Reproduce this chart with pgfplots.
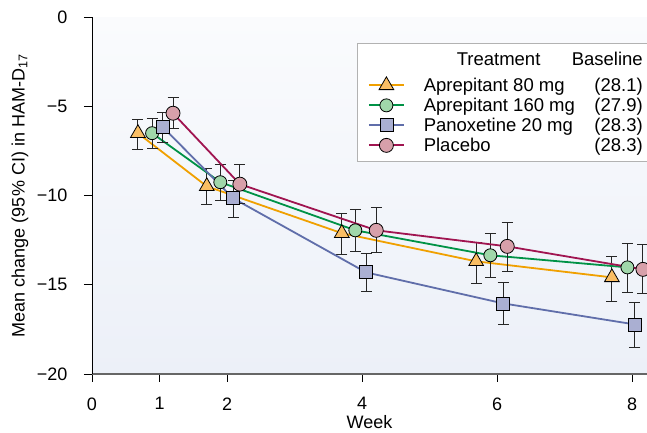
\documentclass[border=0pt]{standalone}
\usepackage{fontspec}
\setmainfont{Liberation Sans}
\usepackage{pgfplots}
\pgfplotsset{compat=1.18}
\definecolor{linA}{RGB}{240,160,0}
\definecolor{linB}{RGB}{0,146,70}
\definecolor{linC}{RGB}{96,110,170}
\definecolor{linD}{RGB}{160,20,80}
\definecolor{fillA}{RGB}{250,190,100}
\definecolor{fillB}{RGB}{160,215,170}
\definecolor{fillC}{RGB}{170,175,210}
\definecolor{fillD}{RGB}{215,160,170}
% legend rows: name on the left, baseline value right-aligned
\newcommand{\ent}[2]{\makebox[166pt][l]{#1}\makebox[53pt][r]{#2}}
\begin{document}
\begin{tikzpicture}
\begin{axis}[
  scale only axis,
  width=555pt, height=356.5pt,
  xmin=0, xmax=8.22, ymin=-20, ymax=0,
  axis lines*=left,
  x axis line style={line width=1.5pt, black!60},
  y axis line style={line width=0.8pt, black},
  axis background/.style={shade, top color={rgb,255:red,250;green,251;blue,253}, bottom color={rgb,255:red,236;green,240;blue,248}},
  xtick={0,1,2,4,6,8}, xticklabels={0,1,2,4,6,8},
  ytick={-20,-15,-10,-5,0}, yticklabels={−20,−15,−10,−5,0},
  tick align=outside, major tick length=8pt,
  tick style={black, line width=0.8pt},
  ticklabel style={font=\fontsize{18}{21}\selectfont},
  xticklabel style={yshift=-12pt},
  yticklabel style={xshift=-13pt},
  xlabel={Week}, ylabel={Mean change (95\% CI) in HAM-D\textsubscript{17}},
  label style={font=\fontsize{18}{21}\selectfont},
  xlabel style={at={(axis description cs:0.5,0)}, anchor=center, yshift=-48pt},
  ylabel style={at={(axis description cs:-0.1297,0.5)}, anchor=center},
  legend cell align=left,
  legend style={at={(1,0.928)}, anchor=north east, draw=black!30, fill=white,
    font=\fontsize{18.5}{21}\selectfont, row sep=0pt, column sep=19pt,
    inner xsep=4pt, inner ysep=6pt, nodes={inner sep=0pt}},
  legend image code/.code={
    \path[draw=none, fill=none] (-8pt,-10pt) rectangle (35pt,10pt);
    \draw[mark repeat=2, mark phase=2] plot coordinates {(0pt,0pt) (17.5pt,0pt) (35pt,0pt)};},
  error bars/y dir=both, error bars/y explicit,
  error bars/error bar style={black!85, line width=1pt},
  error bars/error mark options={rotate=90, black!85, line width=1pt, mark size=5.5pt},
]
\addlegendimage{legend image code/.code={\path[draw=none, fill=none] (0pt,-16pt) rectangle (1pt,10pt);}}
\addlegendentry{\makebox[219pt][l]{\hspace{33pt}Treatment\hfill Baseline}}
\addplot[color=linA, line width=1.8pt, mark=triangle*,
  mark options={fill=fillA, draw=black, line width=0.8pt, mark size=8.5pt}]
  coordinates {
  (0.68,-6.49) += (0,0.79) -= (0,0.90)
  (1.70,-9.47) += (0,1.01) -= (0,1.01)
  (3.70,-12.10) += (0,1.10) -= (0,1.19)
  (5.69,-13.68) += (0,1.08) -= (0,1.24)
  (7.70,-14.58) += (0,1.18) -= (0,1.35)
  };
\addlegendentry{\ent{Aprepitant 80 mg}{(28.1)}}
\addplot[color=linB, line width=1.8pt, mark=*,
  mark options={fill=fillB, draw=black, line width=0.8pt, mark size=6.5pt}]
  coordinates {
  (0.89,-6.49) += (0,0.84) -= (0,0.84)
  (1.90,-9.24) += (0,1.01) -= (0,1.01)
  (3.90,-11.94) += (0,1.18) -= (0,1.18)
  (5.90,-13.34) += (0,1.23) -= (0,1.24)
  (7.93,-14.02) += (0,1.35) -= (0,1.40)
  };
\addlegendentry{\ent{Aprepitant 160 mg}{(27.9)}}
\addplot[color=linC, line width=1.8pt, mark=square*,
  mark options={fill=fillC, draw=black, line width=0.8pt, mark size=6.5pt}]
  coordinates {
  (1.05,-6.15) += (0,0.84) -= (0,0.85)
  (2.09,-10.14) += (0,1.01) -= (0,1.07)
  (4.06,-14.30) += (0,1.07) -= (0,1.07)
  (6.09,-16.04) += (0,1.18) -= (0,1.18)
  (8.04,-17.22) += (0,1.24) -= (0,1.29)
  };
\addlegendentry{\ent{Panoxetine 20 mg}{(28.3)}}
\addplot[color=linD, line width=1.8pt, mark=*,
  mark options={fill=fillD, draw=black, line width=0.8pt, mark size=7pt}]
  coordinates {
  (1.20,-5.37) += (0,0.90) -= (0,0.84)
  (2.19,-9.35) += (0,1.12) -= (0,1.10)
  (4.21,-11.94) += (0,1.29) -= (0,1.23)
  (6.15,-12.84) += (0,1.35) -= (0,1.40)
  (8.16,-14.13) += (0,1.40) -= (0,1.35)
  };
\addlegendentry{\ent{Placebo}{(28.3)}}
\coordinate (bl) at (rel axis cs:0,0);
\coordinate (tr) at (rel axis cs:1,1);
\end{axis}
\pgfresetboundingbox
\path[use as bounding box] ([shift={(-92pt,-59pt)}]bl) rectangle ([shift={(0pt,17.5pt)}]tr);
\end{tikzpicture}
\end{document}
